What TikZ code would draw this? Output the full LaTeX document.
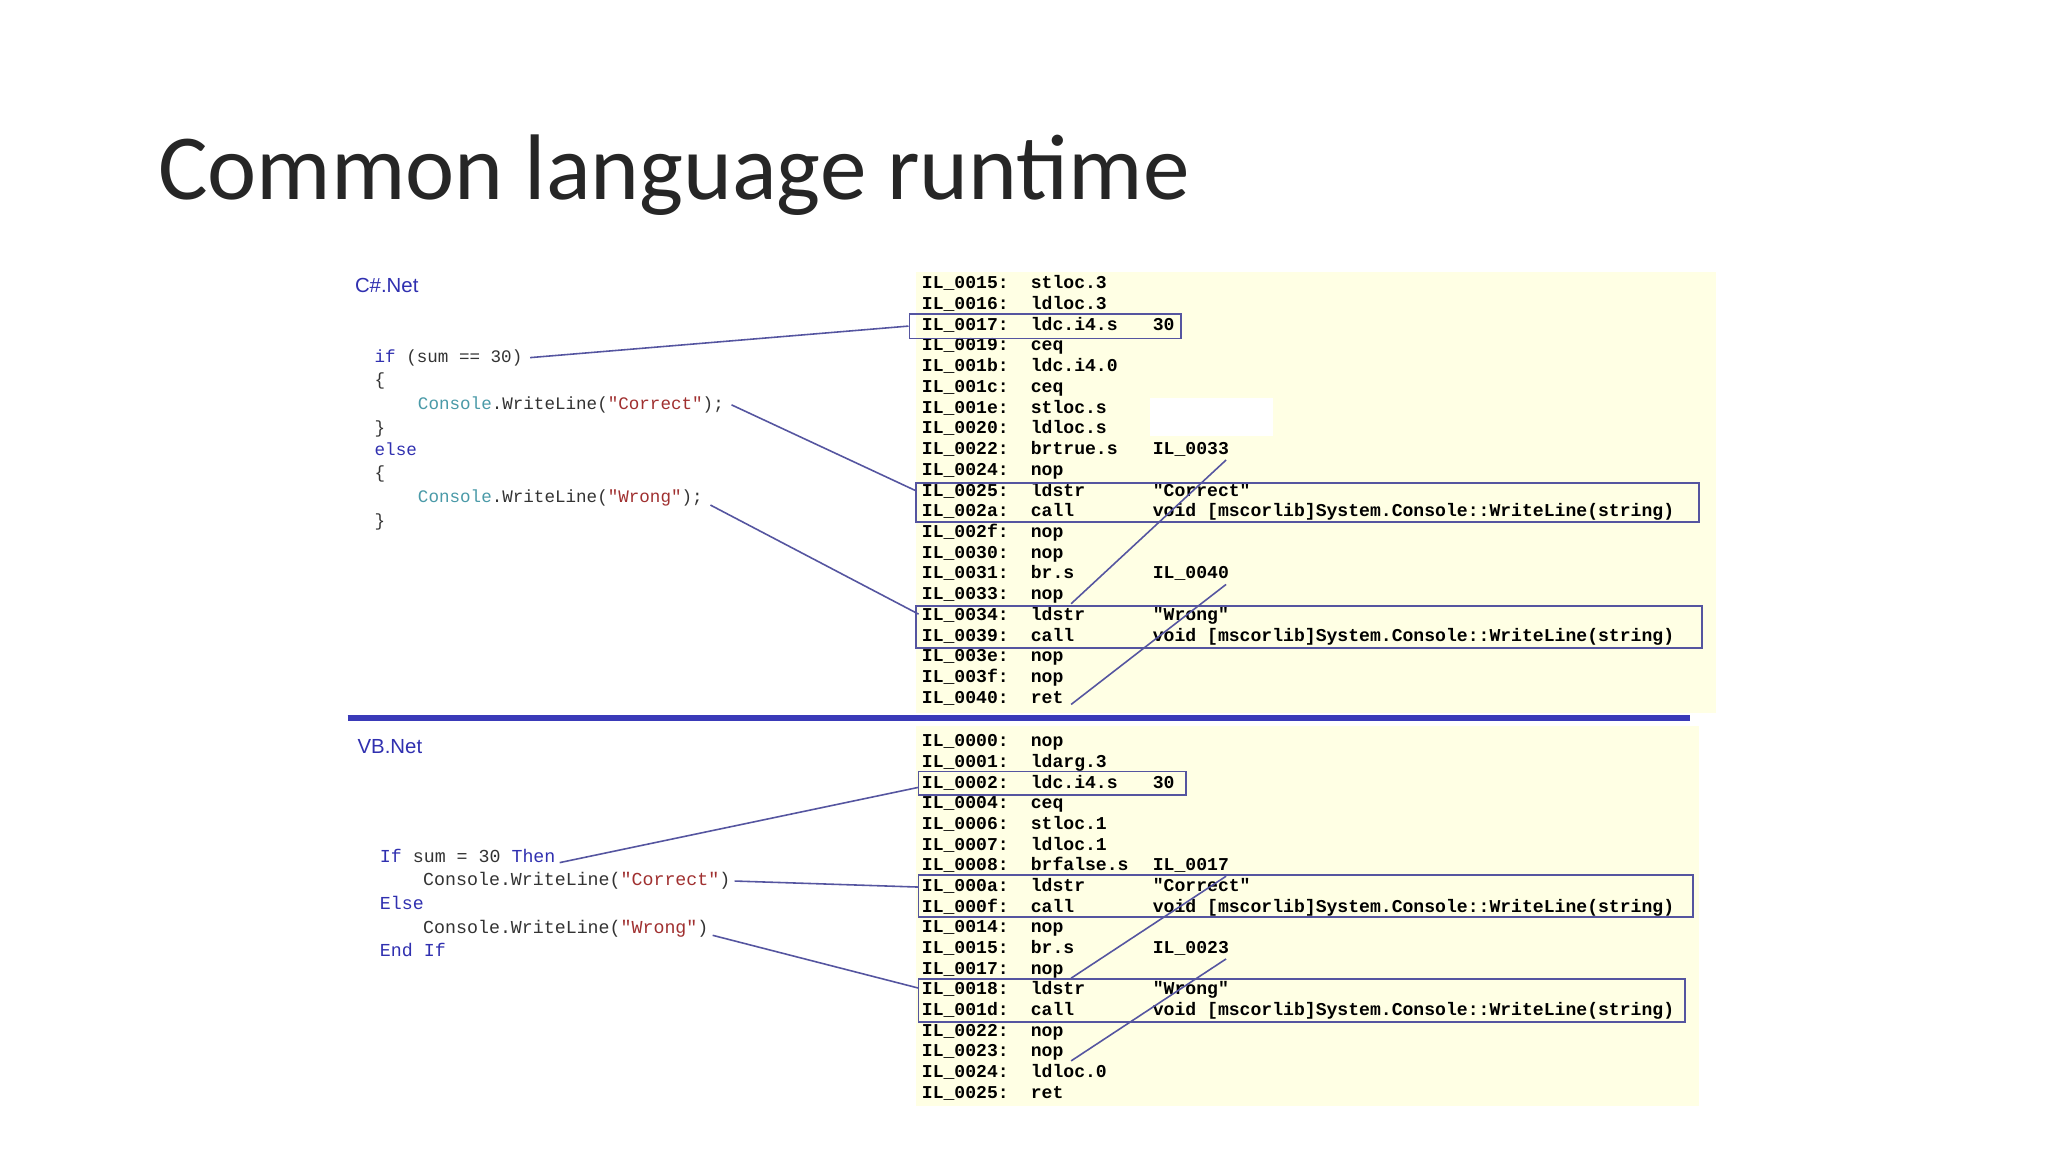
\documentclass[tikz,border=0pt]{standalone}
\usepackage{fontspec}
\usetikzlibrary{fit}
\setmainfont{Carlito}
\newfontfamily\ilfont{Liberation Mono}
\newfontfamily\codefont{Liberation Mono}
\newfontfamily\lblfont{Liberation Sans}
\definecolor{panel}{HTML}{FFFFE4}
\definecolor{lnk}{HTML}{5555A0}
\definecolor{sep}{HTML}{3A3AB8}
\definecolor{kw}{HTML}{3030B0}
\definecolor{cls}{HTML}{4A9AA8}
\definecolor{str}{HTML}{A03030}
\definecolor{ttl}{HTML}{262626}
\tikzset{
 il/.style={anchor=base west,inner sep=0pt,font=\ilfont\fontsize{5.15pt}{6pt}\selectfont\bfseries},
 code/.style={anchor=base west,inner sep=0pt,font=\codefont\fontsize{5.0pt}{6pt}\selectfont,text=black!80},
 vb/.style={anchor=base west,inner sep=0pt,font=\codefont\fontsize{5.2pt}{6pt}\selectfont,text=black!80},
 lbl/.style={anchor=base west,inner sep=0pt,font=\lblfont\fontsize{5.8pt}{7pt}\selectfont,text=kw},
 box/.style={draw=lnk,line width=0.5pt,inner sep=0pt},
 link/.style={draw=lnk,line width=0.45pt},
}
\begin{document}
\begin{tikzpicture}
\useasboundingbox (0,0) rectangle (20.48,-11.52);
\fill[white] (0,0) rectangle (20.48,-11.52);
\begin{scope}[x=0.013128cm,y=-0.013128cm]
\node[anchor=base west,inner sep=0pt,font=\fontsize{26.5pt}{30pt}\selectfont,text=ttl] (title) at (120,152) {Common language runtime};
% panels
\fill[panel] (698,207) rectangle (1308,543);
\fill[panel] (698,553) rectangle (1295,843);
\fill[white] (876,303) rectangle (970,332);
\draw[sep,line width=1.6pt] (265,547) -- (1288,547);
% top IL
\foreach \a/\b/\c [count=\i from 0] in {
 IL\_0015:/stloc.3/{},IL\_0016:/ldloc.3/{},IL\_0017:/ldc.i4.s/30,IL\_0019:/ceq/{},
 IL\_001b:/ldc.i4.0/{},IL\_001c:/ceq/{},IL\_001e:/stloc.s/{},IL\_0020:/ldloc.s/{},
 IL\_0022:/brtrue.s/IL\_0033,IL\_0024:/nop/{},IL\_0025:/ldstr/{"Correct"},
 IL\_002a:/call/{void [mscorlib]System.Console::WriteLine(string)},
 IL\_002f:/nop/{},IL\_0030:/nop/{},IL\_0031:/br.s/IL\_0040,IL\_0033:/nop/{},
 IL\_0034:/ldstr/{"Wrong"},IL\_0039:/call/{void [mscorlib]System.Console::WriteLine(string)},
 IL\_003e:/nop/{},IL\_003f:/nop/{},IL\_0040:/ret/{}}{
 \node[il] (t\i) at (702,{220+15.8*\i}) {\a};
 \node[il] (to\i) at (785,{220+15.8*\i}) {\b};
 \node[il] (ta\i) at (878,{220+15.8*\i}) {\c};
}
% bottom IL
\foreach \a/\b/\c [count=\i from 0] in {
 IL\_0000:/nop/{},IL\_0001:/ldarg.3/{},IL\_0002:/ldc.i4.s/30,IL\_0004:/ceq/{},
 IL\_0006:/stloc.1/{},IL\_0007:/ldloc.1/{},IL\_0008:/brfalse.s/IL\_0017,
 IL\_000a:/ldstr/{"Correct"},IL\_000f:/call/{void [mscorlib]System.Console::WriteLine(string)},
 IL\_0014:/nop/{},IL\_0015:/br.s/IL\_0023,IL\_0017:/nop/{},IL\_0018:/ldstr/{"Wrong"},
 IL\_001d:/call/{void [mscorlib]System.Console::WriteLine(string)},
 IL\_0022:/nop/{},IL\_0023:/nop/{},IL\_0024:/ldloc.0/{},IL\_0025:/ret/{}}{
 \node[il] (b\i) at (702,{569+15.76*\i}) {\a};
 \node[il] (bo\i) at (785,{569+15.76*\i}) {\b};
 \node[il] (ba\i) at (878,{569+15.76*\i}) {\c};
}
% boxes
\node[box,fit={(693,239) (900,258)}] (tb1) {};
\node[box,fit={(698,368) (1295,398)}] (tb2) {};
\node[box,fit={(698,462) (1297,494)}] (tb3) {};
\node[box,fit={(700,588) (904,606)}] (bb1) {};
\node[box,fit={(700,667) (1290,699)}] (bb2) {};
\node[box,fit={(700,746) (1284,779)}] (bb3) {};
% C# code
\node[lbl] (cs) at (270,223) {C\#.Net};
\node[code] (c1) at (285,276) {\textcolor{kw}{if} (sum == 30)};
\node[code] (c2) at (285,294) {\{};
\node[code] (c3) at (318,312) {\textcolor{cls}{Console}.WriteLine(\textcolor{str}{"Correct"});};
\node[code] (c4) at (285,330) {\}};
\node[code] (c5) at (285,347) {\textcolor{kw}{else}};
\node[code] (c6) at (285,365) {\{};
\node[code] (c7) at (318,383) {\textcolor{cls}{Console}.WriteLine(\textcolor{str}{"Wrong"});};
\node[code] (c8) at (285,401) {\}};
% VB code
\node[lbl] (vbl) at (272,574) {VB.Net};
\node[vb] (v1) at (289,657) {\textcolor{kw}{If} sum = 30 \textcolor{kw}{Then}};
\node[vb] (v2) at (322,675) {Console.WriteLine(\textcolor{str}{"Correct"})};
\node[vb] (v3) at (289,693) {\textcolor{kw}{Else}};
\node[vb] (v4) at (322,711) {Console.WriteLine(\textcolor{str}{"Wrong"})};
\node[vb] (v5) at (289,729) {\textcolor{kw}{End If}};
% link endpoints
\coordinate (e2) at (698,374);
\coordinate (e3) at (700,468);
\coordinate (f2) at (700,676);
\coordinate (f3) at (700,753);
\coordinate (f1) at (700,600);
% links
\draw[link] ([xshift=2pt]c1.east) -- (tb1.west);
\draw[link] ([xshift=2pt]c3.east) -- (e2);
\draw[link] ([xshift=2pt,yshift=-2pt]c7.east) -- (e3);
\draw[link] ([xshift=1pt,yshift=-2pt]v1.east) -- (f1);
\draw[link] ([xshift=1pt]v2.east) -- (f2);
\draw[link] ([xshift=1pt,yshift=-2pt]v4.east) -- (f3);
\draw[link] ([xshift=-1pt,yshift=-3pt]ta8.east) -- ([xshift=2pt,yshift=-2pt]to15.east);
\draw[link] ([xshift=-1pt,yshift=-3pt]ta14.east) -- ([xshift=2pt,yshift=-2pt]to20.east);
\draw[link] ([xshift=-1pt,yshift=-3pt]ba6.east) -- ([xshift=2pt,yshift=-2pt]bo11.east);
\draw[link] ([xshift=-1pt,yshift=-3pt]ba10.east) -- ([xshift=2pt,yshift=-2pt]bo15.east);
\end{scope}
\end{tikzpicture}
\end{document}
